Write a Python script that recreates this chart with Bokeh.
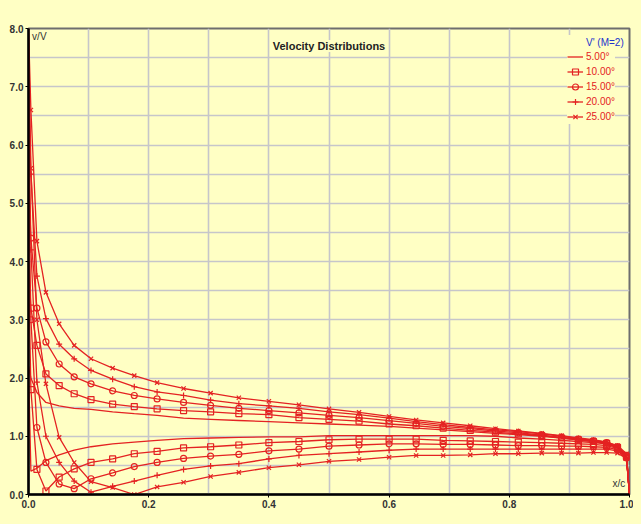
from bokeh.plotting import figure
from bokeh.models import FixedTicker, Label, Legend, LegendItem, NumeralTickFormatter
from bokeh.embed import file_html
from bokeh.resources import INLINE

# ---------------- data ----------------
X = [0.0, 0.004, 0.014, 0.029, 0.051, 0.076, 0.104, 0.14, 0.176, 0.214, 0.258,
     0.303, 0.35, 0.40, 0.45, 0.50, 0.55, 0.60, 0.645, 0.69, 0.735, 0.777,
     0.815, 0.854, 0.887, 0.915, 0.94, 0.962, 0.98, 0.995, 1.0]

U05 = [2.2, 2.0, 1.75, 1.58, 1.52, 1.48, 1.46, 1.42, 1.39, 1.36, 1.31,
       1.29, 1.27, 1.25, 1.23, 1.21, 1.19, 1.17, 1.14, 1.11, 1.08, 1.05,
       1.03, 1.00, 0.97, 0.94, 0.91, 0.88, 0.80, 0.65, 0.0]
L05 = [2.2, 0.40, 0.45, 0.58, 0.68, 0.76, 0.82, 0.87, 0.90, 0.93, 0.96,
       0.97, 0.98, 0.99, 0.99, 1.01, 1.01, 1.01, 1.01, 1.01, 1.01, 1.00,
       0.97, 0.95, 0.93, 0.91, 0.89, 0.87, 0.80, 0.64, 0.0]

U10 = [4.0, 3.2, 2.56, 2.07, 1.87, 1.73, 1.63, 1.55, 1.51, 1.47, 1.44,
       1.42, 1.39, 1.37, 1.32, 1.29, 1.26, 1.21, 1.18, 1.14, 1.10, 1.07,
       1.04, 1.01, 0.97, 0.94, 0.91, 0.88, 0.81, 0.66, 0.0]
L10 = [4.0, 1.8, 0.43, 0.06, 0.30, 0.44, 0.55, 0.61, 0.70, 0.74, 0.80,
       0.82, 0.85, 0.89, 0.91, 0.94, 0.95, 0.95, 0.95, 0.93, 0.92, 0.91,
       0.90, 0.89, 0.88, 0.87, 0.86, 0.84, 0.79, 0.64, 0.0]

U15 = [5.5, 4.4, 3.2, 2.62, 2.24, 2.02, 1.90, 1.78, 1.70, 1.64, 1.58,
       1.53, 1.48, 1.44, 1.40, 1.36, 1.32, 1.27, 1.22, 1.17, 1.13, 1.09,
       1.06, 1.02, 0.98, 0.95, 0.92, 0.89, 0.82, 0.67, 0.0]
L15 = [5.5, 3.0, 1.15, 0.55, 0.18, 0.10, 0.27, 0.37, 0.48, 0.55, 0.62,
       0.66, 0.69, 0.75, 0.78, 0.83, 0.85, 0.87, 0.87, 0.86, 0.86, 0.85,
       0.84, 0.84, 0.83, 0.83, 0.82, 0.81, 0.77, 0.63, 0.0]

U20 = [7.0, 5.5, 3.75, 3.02, 2.58, 2.33, 2.13, 1.98, 1.85, 1.76, 1.70,
       1.62, 1.56, 1.52, 1.48, 1.42, 1.37, 1.31, 1.25, 1.20, 1.15, 1.11,
       1.08, 1.04, 1.00, 0.96, 0.93, 0.90, 0.83, 0.68, 0.0]
L20 = [7.0, 4.2, 1.93, 1.00, 0.55, 0.23, 0.04, 0.14, 0.23, 0.33, 0.43,
       0.49, 0.53, 0.61, 0.67, 0.70, 0.73, 0.76, 0.78, 0.78, 0.78, 0.78,
       0.78, 0.78, 0.78, 0.78, 0.78, 0.78, 0.75, 0.62, 0.0]

U25 = [8.0, 6.6, 4.35, 3.47, 2.93, 2.56, 2.33, 2.17, 2.04, 1.92, 1.82,
       1.74, 1.66, 1.60, 1.54, 1.47, 1.41, 1.34, 1.28, 1.23, 1.18, 1.13,
       1.09, 1.05, 1.01, 0.97, 0.94, 0.90, 0.84, 0.70, 0.0]
L25 = [8.0, 5.6, 3.0, 1.9, 0.98, 0.55, 0.22, 0.12, 0.0, 0.13, 0.21,
       0.31, 0.38, 0.46, 0.51, 0.57, 0.60, 0.64, 0.67, 0.67, 0.68, 0.70,
       0.70, 0.71, 0.71, 0.71, 0.72, 0.72, 0.71, 0.62, 0.0]

VPRIME_X = []
VPRIME_Y = []

LABELS = ["V' (M=2)", "5.00\u00b0", "10.00\u00b0", "15.00\u00b0", "20.00\u00b0", "25.00\u00b0"]
X_TICKS = [0.0, 0.2, 0.4, 0.6, 0.8, 1.0]
Y_TICKS = [0, 1, 2, 3, 4, 5, 6, 7, 8]
X_GRID = [0.1, 0.2, 0.3, 0.4, 0.5, 0.6, 0.7, 0.8, 0.9]
Y_GRID = [0.5, 1.0, 1.5, 2.0, 2.5, 3.0, 3.5, 4.0, 4.5, 5.0, 5.5, 6.0, 6.5, 7.0, 7.5]

# ---------------- styling ----------------
BG = "#FFFFC4"
RED = "#E42222"
BLUE = "#2233CC"
FONT = "Liberation Sans"

p = figure(width=633, height=516, x_range=(0, 1), y_range=(0, 8),
           output_backend="svg", toolbar_location=None,
           min_border_left=28, min_border_right=4,
           min_border_top=28, min_border_bottom=22)
p.background_fill_color = BG
p.border_fill_color = BG
p.outline_line_color = "#6E6E6E"
p.outline_line_width = 2

for ax, ticks in ((p.xaxis, X_TICKS), (p.yaxis, Y_TICKS)):
    ax.ticker = FixedTicker(ticks=ticks)
    ax.formatter = NumeralTickFormatter(format="0.0")
    ax.axis_line_color = "black"
    ax.axis_line_width = 2.5
    ax.major_tick_line_color = "black"
    ax.major_tick_out = 3
    ax.major_tick_in = 0
    ax.minor_tick_line_color = None
    ax.major_label_text_font = FONT
    ax.major_label_text_font_style = "bold"
    ax.major_label_text_font_size = "10px"
    ax.major_label_text_color = "#333333"
    ax.major_label_standoff = 2

p.xgrid.ticker = FixedTicker(ticks=X_GRID)
p.ygrid.ticker = FixedTicker(ticks=Y_GRID)
for g in (p.xgrid, p.ygrid):
    g.grid_line_color = "#C6C6CA"
    g.grid_line_width = 1.6

# ---------------- series ----------------
vline = p.line(VPRIME_X, VPRIME_Y, line_color=BLUE, line_width=1.5)

series = [(U05, L05, None), (U10, L10, "square"), (U15, L15, "circle"),
          (U20, L20, "cross"), (U25, L25, "x")]
red_items = []
for (U, L, mk), lab in zip(series, LABELS[1:]):
    ru = p.line(X, U, line_color=RED, line_width=1.3)
    rl = p.line(X, L, line_color=RED, line_width=1.3)
    rends = [ru]
    if mk is not None:
        su = p.scatter(X[1:-1], U[1:-1], marker=mk, size=6, fill_color=None,
                       line_color=RED, line_width=1.2)
        p.scatter(X[1:-1], L[1:-1], marker=mk, size=6, fill_color=None,
                  line_color=RED, line_width=1.2)
        rends.append(su)
    red_items.append(LegendItem(label=lab, renderers=rends))

leg_common = dict(background_fill_color=BG, background_fill_alpha=1.0,
                  border_line_color=None, padding=0, spacing=0, margin=0,
                  label_text_font=FONT, label_text_font_size="10px",
                  label_height=15, glyph_height=15, glyph_width=16,
                  label_standoff=3)
leg1 = Legend(items=[LegendItem(label=LABELS[0], renderers=[vline])],
              location=(539, 444), label_text_color=BLUE, **leg_common)
leg2 = Legend(items=red_items, location=(539, 370),
              label_text_color=RED, **leg_common)
p.add_layout(leg1)
p.add_layout(leg2)

# ---------------- texts ----------------
p.add_layout(Label(x=0.5, y=7.70, text="Velocity Distributions",
                   text_font=FONT, text_font_style="bold", text_font_size="11px",
                   text_align="center", text_baseline="middle",
                   text_color="#222222", background_fill_color=BG))
p.add_layout(Label(x=0.006, y=7.95, text="v/V", text_font=FONT,
                   text_font_size="10px", text_baseline="top", text_color="#333333"))
p.add_layout(Label(x=0.993, y=0.09, text="x/c", text_font=FONT,
                   text_font_size="10px", text_align="right", text_baseline="bottom",
                   text_color="#333333"))

html = file_html(p, INLINE)
html = html.replace("<head>", "<head><style>body{background:#FFFFC4;}</style>", 1)
open("out.html", "w").write(html)
